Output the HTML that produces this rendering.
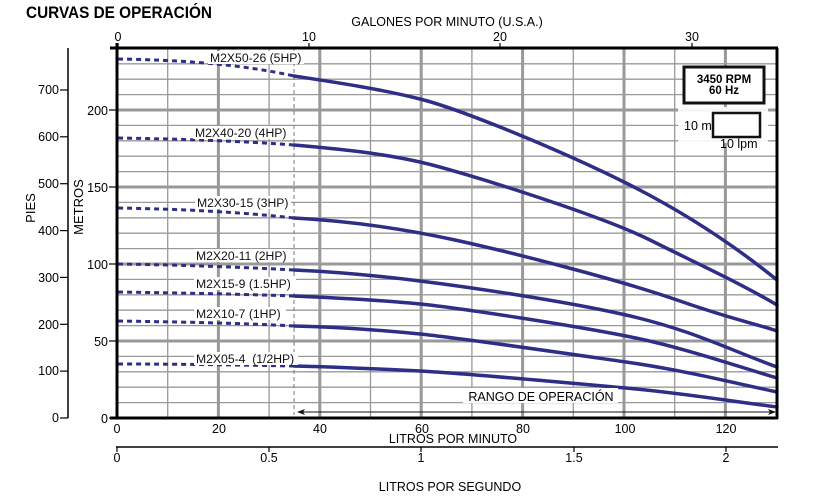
<!DOCTYPE html>
<html><head><meta charset="utf-8"><style>
html,body{margin:0;padding:0;background:#fff;}
svg{display:block;font-family:"Liberation Sans",Arial,sans-serif;}
</style></head><body>
<svg width="831" height="496" viewBox="0 0 831 496" xmlns="http://www.w3.org/2000/svg">
<text x="26" y="18" font-size="17" font-weight="bold" textLength="186" lengthAdjust="spacingAndGlyphs">CURVAS DE OPERACIÓN</text>
<!-- grid -->
<g stroke="#999" stroke-width="1.3">
<line x1="167.7" y1="48" x2="167.7" y2="418"/><line x1="269.1" y1="48" x2="269.1" y2="418"/><line x1="370.5" y1="48" x2="370.5" y2="418"/><line x1="471.9" y1="48" x2="471.9" y2="418"/><line x1="573.3" y1="48" x2="573.3" y2="418"/><line x1="674.7" y1="48" x2="674.7" y2="418"/>
<line x1="117" y1="402.6" x2="777" y2="402.6"/><line x1="117" y1="387.2" x2="777" y2="387.2"/><line x1="117" y1="371.8" x2="777" y2="371.8"/><line x1="117" y1="356.4" x2="777" y2="356.4"/>
<line x1="117" y1="325.6" x2="777" y2="325.6"/><line x1="117" y1="310.2" x2="777" y2="310.2"/><line x1="117" y1="294.8" x2="777" y2="294.8"/><line x1="117" y1="279.4" x2="777" y2="279.4"/>
<line x1="117" y1="248.6" x2="777" y2="248.6"/><line x1="117" y1="233.2" x2="777" y2="233.2"/><line x1="117" y1="217.8" x2="777" y2="217.8"/><line x1="117" y1="202.4" x2="777" y2="202.4"/>
<line x1="117" y1="171.6" x2="777" y2="171.6"/><line x1="117" y1="156.2" x2="777" y2="156.2"/><line x1="117" y1="140.8" x2="777" y2="140.8"/><line x1="117" y1="125.4" x2="777" y2="125.4"/>
<line x1="117" y1="94.6" x2="777" y2="94.6"/><line x1="117" y1="79.2" x2="777" y2="79.2"/><line x1="117" y1="63.8" x2="777" y2="63.8"/>
</g>
<g stroke="#999" stroke-width="3">
<line x1="218.4" y1="48" x2="218.4" y2="418"/><line x1="319.8" y1="48" x2="319.8" y2="418"/><line x1="421.2" y1="48" x2="421.2" y2="418"/><line x1="522.6" y1="48" x2="522.6" y2="418"/><line x1="624" y1="48" x2="624" y2="418"/><line x1="725.4" y1="48" x2="725.4" y2="418"/>
<line x1="117" y1="341" x2="777" y2="341"/><line x1="117" y1="264" x2="777" y2="264"/><line x1="117" y1="187" x2="777" y2="187"/><line x1="117" y1="110" x2="777" y2="110"/>
</g>
<line x1="294" y1="48" x2="294" y2="415" stroke="#777" stroke-width="1" stroke-dasharray="4,3"/>
<!-- legend boxes -->
<rect x="678" y="107" width="90" height="36" fill="#fff" opacity="0.9"/>
<rect x="684" y="67" width="80" height="36" fill="#fff" stroke="#111" stroke-width="3"/>
<text x="724" y="83" font-size="11.5" font-weight="bold" text-anchor="middle">3450 RPM</text>
<text x="724" y="94" font-size="11.5" font-weight="bold" text-anchor="middle">60 Hz</text>
<rect x="713" y="113" width="47" height="24" fill="#fff" stroke="#111" stroke-width="2.5"/>
<text x="684" y="130" font-size="12.5">10 m</text>
<text x="720" y="148" font-size="12.5">10 lpm</text>
<!-- curves -->
<g fill="none" stroke="#2e2e86" stroke-width="3.5" stroke-linejoin="round" stroke-linecap="round">
<path d="M294,76 C340,83 380,89 420,99 S560,150 626,183 S740,250 777,280"/>
<path d="M294,145 C340,149 380,153 420,162 S600,215 650,240 S740,283 777,305"/>
<path d="M294,218 C350,221 400,228 455,240 S620,280 677,300 S750,322 777,331"/>
<path d="M294,270 C340,272 380,276 420,281 S560,300 626,315 S730,350 777,367"/>
<path d="M294,296 C340,298 380,300 420,304 S570,325 626,336 S730,364 777,378"/>
<path d="M294,326 C340,327 380,330 420,334 S570,354 626,362 S730,382 777,392"/>
<path d="M294,366 C340,367 380,369 420,371 S570,383 626,388 S730,401 777,407"/>
</g>
<g fill="none" stroke="#2e2e86" stroke-width="3" stroke-dasharray="5,4">
<path d="M118,59 C180,60 240,64 294,76"/>
<path d="M118,138 C180,139 240,141 294,145"/>
<path d="M118,208 C180,209 240,212 294,218"/>
<path d="M118,264 C180,265 240,267 294,270"/>
<path d="M118,292 C180,293 240,294 294,296"/>
<path d="M118,321 C180,322 240,323 294,326"/>
<path d="M118,364 C180,364 240,365 294,366"/>
</g>
<!-- curve labels -->
<g font-size="12.2" fill="#111">
<rect x="208" y="51" width="96" height="13" fill="#fff"/><text x="210" y="62">M2X50-26 (5HP)</text>
<rect x="193" y="126" width="97" height="13" fill="#fff"/><text x="195" y="137">M2X40-20 (4HP)</text>
<rect x="195" y="196" width="96" height="13" fill="#fff"/><text x="197" y="207">M2X30-15 (3HP)</text>
<rect x="194" y="249" width="96" height="13" fill="#fff"/><text x="196" y="260">M2X20-11 (2HP)</text>
<rect x="194" y="277" width="102" height="13" fill="#fff"/><text x="196" y="288">M2X15-9 (1.5HP)</text>
<rect x="194" y="307" width="92" height="13" fill="#fff"/><text x="196" y="318">M2X10-7 (1HP)</text>
<rect x="194" y="352" width="104" height="13" fill="#fff"/><text x="196" y="363" xml:space="preserve">M2X05-4  (1/2HP)</text>
</g>
<!-- operating range -->
<rect x="463" y="388" width="155" height="15" fill="#fff"/>
<text x="541" y="401" font-size="12.5" text-anchor="middle">RANGO DE OPERACIÓN</text>
<line x1="300" y1="412" x2="770" y2="412" stroke="#111" stroke-width="1"/>
<path d="M297,412 l8,-3 l-2,3 l2,3z M776,412 l-8,-3 l2,3 l-2,3z" fill="#111"/>
<!-- frame -->
<line x1="117" y1="43" x2="117" y2="419" stroke="#000" stroke-width="3"/>
<line x1="110" y1="418" x2="778" y2="418" stroke="#000" stroke-width="3"/>
<line x1="110" y1="48" x2="778" y2="48" stroke="#000" stroke-width="3"/>
<line x1="777" y1="48" x2="777" y2="419" stroke="#000" stroke-width="3"/>
<!-- top gallons axis -->
<g stroke="#000" stroke-width="1.2"><line x1="118" y1="43" x2="118" y2="48"/><line x1="309" y1="43" x2="309" y2="48"/><line x1="500" y1="43" x2="500" y2="48"/><line x1="692" y1="43" x2="692" y2="48"/></g>
<g font-size="12.5" text-anchor="middle"><text x="118" y="41">0</text><text x="309" y="41">10</text><text x="500" y="41">20</text><text x="692" y="41">30</text>
<text x="447" y="26">GALONES POR MINUTO (U.S.A.)</text></g>
<!-- metros axis -->
<g stroke="#000" stroke-width="1.2"><line x1="109" y1="418" x2="117" y2="418"/><line x1="109" y1="341" x2="117" y2="341"/><line x1="109" y1="264" x2="117" y2="264"/><line x1="109" y1="187" x2="117" y2="187"/><line x1="109" y1="110" x2="117" y2="110"/></g>
<g font-size="12.5" text-anchor="end"><text x="108" y="423">0</text><text x="108" y="346">50</text><text x="108" y="269">100</text><text x="108" y="192">150</text><text x="108" y="115">200</text></g>
<text transform="translate(83,207) rotate(-90)" font-size="13" text-anchor="middle">METROS</text>
<!-- feet axis -->
<line x1="68" y1="48" x2="68" y2="418" stroke="#000" stroke-width="1.5"/>
<g stroke="#000" stroke-width="1.2"><line x1="60" y1="418" x2="68" y2="418"/><line x1="60" y1="371.1" x2="68" y2="371.1"/><line x1="60" y1="324.3" x2="68" y2="324.3"/><line x1="60" y1="277.4" x2="68" y2="277.4"/><line x1="60" y1="230.6" x2="68" y2="230.6"/><line x1="60" y1="183.7" x2="68" y2="183.7"/><line x1="60" y1="136.8" x2="68" y2="136.8"/><line x1="60" y1="90" x2="68" y2="90"/></g>
<g font-size="12.5" text-anchor="end"><text x="59" y="422">0</text><text x="59" y="375">100</text><text x="59" y="329">200</text><text x="59" y="282">300</text><text x="59" y="235">400</text><text x="59" y="188">500</text><text x="59" y="141">600</text><text x="59" y="94">700</text></g>
<text transform="translate(35,208) rotate(-90)" font-size="13" text-anchor="middle">PIES</text>
<!-- bottom LPM -->
<g font-size="12.5" text-anchor="middle"><text x="117" y="433">0</text><text x="219" y="433">20</text><text x="320" y="433">40</text><text x="422" y="433">60</text><text x="523" y="433">80</text><text x="625" y="433">100</text><text x="726" y="433">120</text>
<text x="453" y="443">LITROS POR MINUTO</text></g>
<!-- LPS axis -->
<line x1="116" y1="447" x2="778" y2="447" stroke="#000" stroke-width="1.5"/>
<g stroke="#000" stroke-width="1.2"><line x1="117" y1="447" x2="117" y2="452"/><line x1="269" y1="447" x2="269" y2="452"/><line x1="421" y1="447" x2="421" y2="452"/><line x1="574" y1="447" x2="574" y2="452"/><line x1="726" y1="447" x2="726" y2="452"/></g>
<g font-size="12.5" text-anchor="middle"><text x="117" y="462">0</text><text x="269" y="462">0.5</text><text x="421" y="462">1</text><text x="574" y="462">1.5</text><text x="726" y="462">2</text>
<text x="450" y="491">LITROS POR SEGUNDO</text></g>
</svg>
</body></html>
